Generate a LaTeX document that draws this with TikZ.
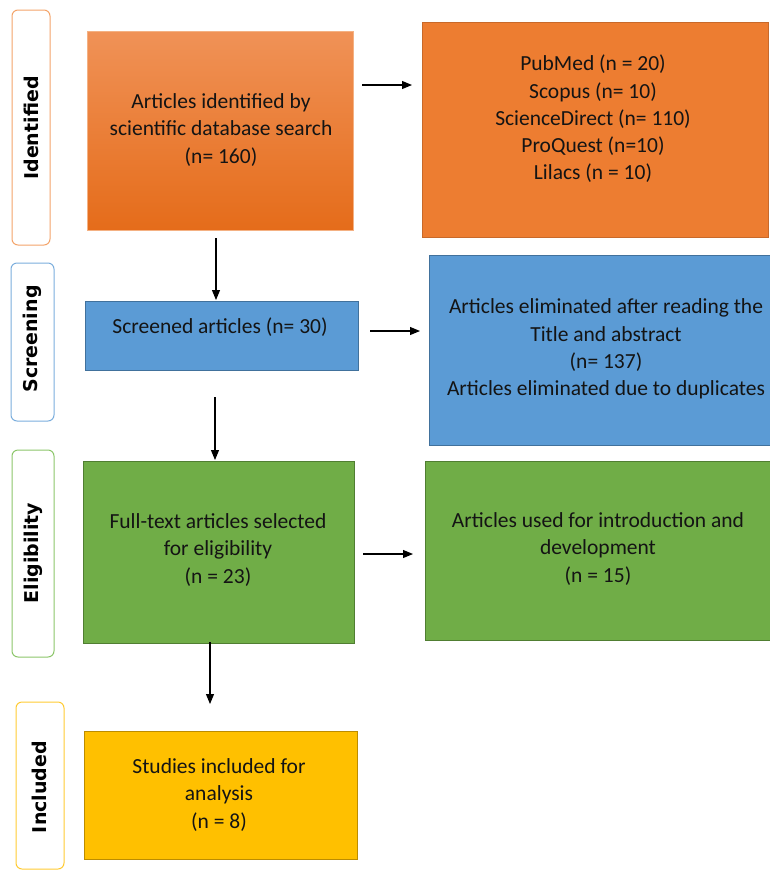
\documentclass[tikz,border=0pt]{standalone}
\usepackage{fontspec}
\setmainfont{Carlito}
\newfontfamily\sidefont{DejaVu Sans}
\usetikzlibrary{arrows.meta}
\definecolor{txt}{HTML}{141414}
\definecolor{orA}{HTML}{ED7D31}
\definecolor{orAtop}{HTML}{F09257}
\definecolor{orAbot}{HTML}{E56C1A}
\definecolor{orEdge}{HTML}{F4B183}
\definecolor{orBorder}{HTML}{C8692A}
\definecolor{blF}{HTML}{5B9BD5}
\definecolor{blB}{HTML}{41719C}
\definecolor{grF}{HTML}{70AD47}
\definecolor{grB}{HTML}{507E32}
\definecolor{ylF}{HTML}{FFC000}
\definecolor{ylB}{HTML}{BC8C00}
\definecolor{sideOr}{HTML}{F4A46A}
\definecolor{sideBl}{HTML}{7BAEDD}
\definecolor{sideGr}{HTML}{8CC66A}
\definecolor{sideYl}{HTML}{FFCB33}
\tikzset{
  x=1pt, y=-1pt,
  box/.style={draw, line width=0.8pt},
  sidebox/.style={draw, line width=1pt, rounded corners=6pt, fill=white},
  sidelabel/.style={rotate=90, font=\sidefont\bfseries\fontsize{19}{22}\selectfont, text=black, inner sep=0pt},
  btext/.style={align=center, text=txt, font=\fontsize{21.5}{27.3}\selectfont, inner sep=0pt},
  arr/.style={line width=1.1pt, -{Triangle[length=10pt,width=8pt]}},
}
\begin{document}
\begin{tikzpicture}
\useasboundingbox (0,0) rectangle (770,871);
% side boxes
\draw[sidebox, draw=sideOr] (12,10) rectangle (50,245);
\draw[sidebox, draw=sideBl] (11,263) rectangle (54,421);
\draw[sidebox, draw=sideGr] (12,450) rectangle (54,657);
\draw[sidebox, draw=sideYl] (16,702) rectangle (64,869);
\node[sidelabel] (lId) at (31,128) {Identified};
\node[sidelabel] (lSc) at (32,339) {Screening};
\node[sidelabel] (lEl) at (33,553) {Eligibility};
\node[sidelabel] (lIn) at (39,787) {Included};
% main boxes
\path[box, draw=orEdge, top color=orAtop, bottom color=orAbot] (87,31) rectangle (353,230);
\path[box, draw=orBorder, fill=orA] (422,22) rectangle (768,237);
\path[box, draw=blB, fill=blF] (85,301) rectangle (358,370);
\path[box, draw=blB, fill=blF] (429,255) rectangle (772,445);
\path[box, draw=grB, fill=grF] (83,461) rectangle (354,643);
\path[box, draw=grB, fill=grF] (425,461) rectangle (772,640);
\path[box, draw=ylB, fill=ylF] (84,731) rectangle (357,859);
% texts
\node[btext] (A) at (221,130) {Articles identified by\\scientific database search\\(n= 160)};
\node[btext] (B) at (593,119) {PubMed (n = 20)\\Scopus (n= 10)\\ScienceDirect (n= 110)\\ProQuest (n=10)\\Lilacs (n = 10)};
\node[btext] (C) at (220,327) {Screened articles (n= 30)};
\node[btext] (D) at (606,349) {Articles eliminated after reading the\\Title and abstract\\(n= 137)\\Articles eliminated due to duplicates};
\node[btext] (E) at (218,550) {Full-text articles selected\\for eligibility\\(n = 23)};
\node[btext] (F) at (598,549) {Articles used for introduction and\\development\\(n = 15)};
\node[btext] (G) at (219,795) {Studies included for\\analysis\\(n = 8)};
% arrow anchor coordinates
\coordinate (a1s) at (362,85);  \coordinate (a1e) at (412,85);
\coordinate (a2s) at (216,238); \coordinate (a2e) at (216,300);
\coordinate (a3s) at (370,331); \coordinate (a3e) at (420,331);
\coordinate (a4s) at (215,397); \coordinate (a4e) at (215,460);
\coordinate (a5s) at (363,554); \coordinate (a5e) at (413,554);
\coordinate (a6s) at (210,642); \coordinate (a6e) at (210,704);
\draw[arr] (a1s) -- (a1e);
\draw[arr] (a2s) -- (a2e);
\draw[arr] (a3s) -- (a3e);
\draw[arr] (a4s) -- (a4e);
\draw[arr] (a5s) -- (a5e);
\draw[arr] (a6s) -- (a6e);
\end{tikzpicture}
\end{document}
